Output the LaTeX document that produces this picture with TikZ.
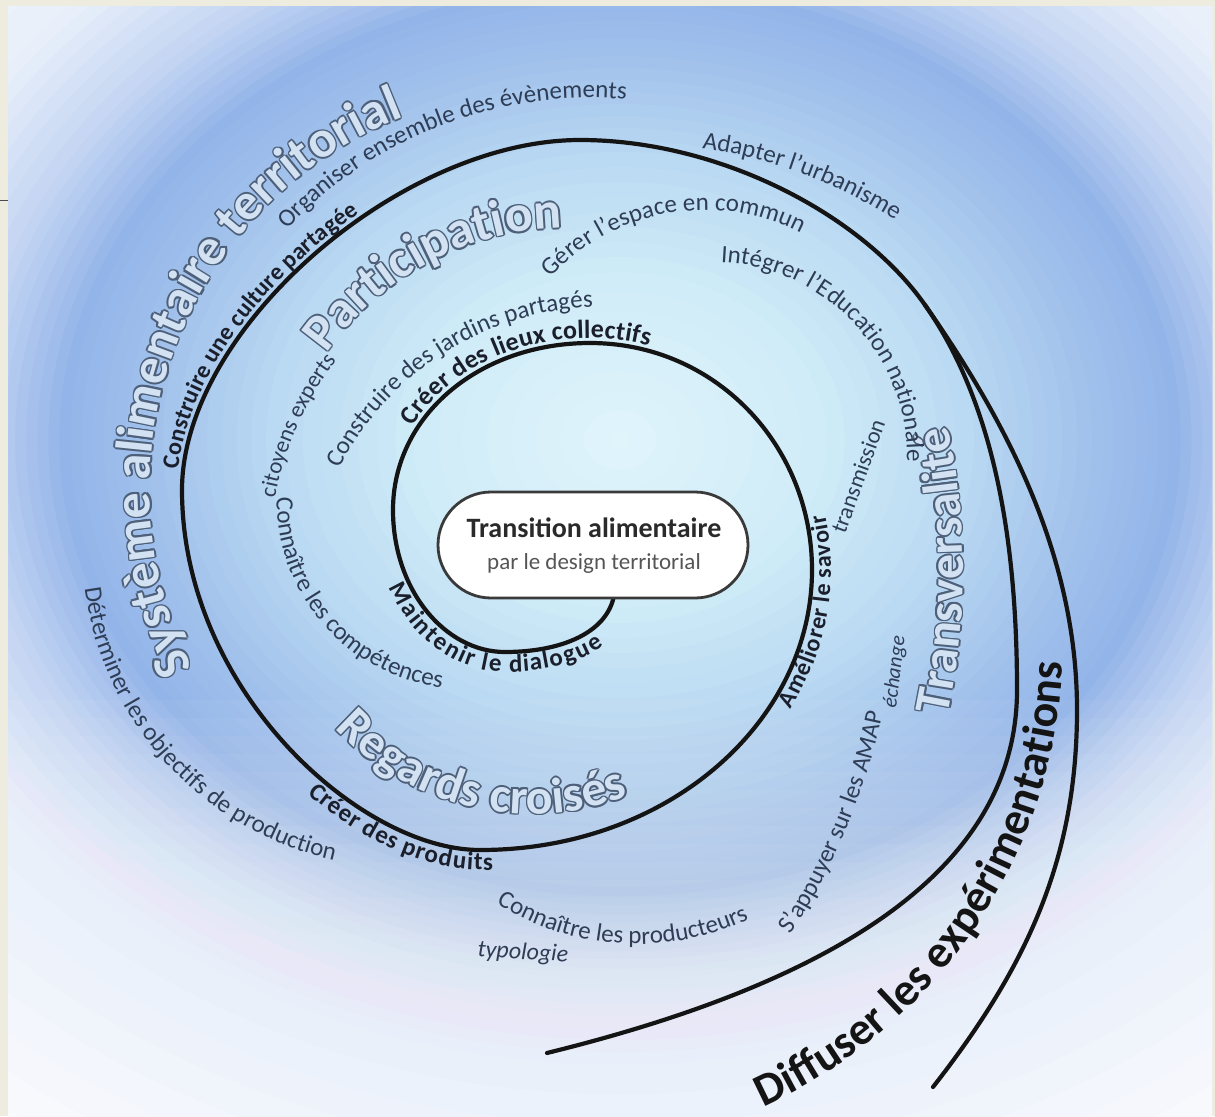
\documentclass[tikz,border=0pt]{standalone}
\usepackage{fontspec}
\setmainfont{Carlito}
\usetikzlibrary{decorations.text}
\definecolor{beige}{HTML}{EEEBDF}
\definecolor{bg0}{HTML}{E0F4FB}
\definecolor{bg1}{HTML}{D0ECF8}
\definecolor{bg2}{HTML}{BAD9F2}
\definecolor{bg3}{HTML}{A2C2EC}
\definecolor{bg4}{HTML}{93B4E9}
\definecolor{bg5}{HTML}{C2D4F2}
\definecolor{bg6}{HTML}{E8EFFA}
\definecolor{bg7}{HTML}{F9FAFD}
\definecolor{txtc}{HTML}{2E3D55}
\definecolor{boldc}{HTML}{1A1F2B}
\definecolor{holline}{HTML}{4E6079}
\definecolor{holfill}{HTML}{D2E2F3}
\definecolor{spiralc}{HTML}{141414}
\definecolor{pillb}{HTML}{3A3A3A}
\definecolor{pilltxt}{HTML}{2A2A2A}
\definecolor{pillsub}{HTML}{555555}
% background band: #1 u inner, #2 u outer, #3 colour inner, #4 colour outer
\newcommand\bgband[4]{%
 \foreach \j in {0,...,8}{%
   \pgfmathsetmacro\uu{#2-(#2-#1)*\j/8}%
   \pgfmathtruncatemacro\pp{100*\j/8}%
   \fill[#3!\pp!#4] (620,440) ellipse [x radius=\uu*590, y radius=\uu*480];}}
% #1 center, #2 radius, #3 from, #4 to, #5 format, #6 text
\newcommand\arctext[6]{%
 \path[decorate, decoration={text along path, text align=center, text={|#5|#6}}]
   (#1) ++(#3:#2) arc[start angle=#3, end angle=#4, radius=#2];}
% hollow (outlined) text: #1 center, #2 radius, #3 from, #4 to, #5 size, #6 text
\newcommand\hollowtext[6]{%
 \foreach \sx/\sy in {1.7/0,-1.7/0,0/1.7,0/-1.7,1.2/1.2,-1.2/1.2,1.2/-1.2,-1.2/-1.2}{%
  \path[shift={(\sx,\sy)}, decorate, decoration={text along path, text align=center,
     text={|\fontsize{#5}{#5}\selectfont\bfseries\color{holline}|#6}}]
   (#1) ++(#3:#2) arc[start angle=#3, end angle=#4, radius=#2];}%
 \path[decorate, decoration={text along path, text align=center,
     text={|\fontsize{#5}{#5}\selectfont\bfseries\color{holfill}|#6}}]
   (#1) ++(#3:#2) arc[start angle=#3, end angle=#4, radius=#2];}
\tikzset{
 spiral/.style={line width=4.2pt, draw=spiralc, line cap=round},
 pill/.style={draw=pillb, line width=2.8pt, fill=white, rounded corners=53pt,
   minimum width=310pt, minimum height=106pt, inner sep=0pt},
 smalllabel/.style={text=txtc, inner sep=0pt}
}
\begin{document}
\begin{tikzpicture}[x=1pt, y=-1pt]
\useasboundingbox (0,0) rectangle (1215,1116);
\fill[beige] (0,0) rectangle (1215,1116);
\begin{scope}
 \clip (8,7) rectangle (1212,1116);
 \fill[bg7] (8,7) rectangle (1212,1116);
 \bgband{1.3}{1.8}{bg6}{bg7}
 \bgband{1.1}{1.3}{bg5}{bg6}
 \bgband{0.95}{1.1}{bg4}{bg5}
 \bgband{0.8}{0.95}{bg3}{bg4}
 \bgband{0.6}{0.8}{bg2}{bg3}
 \bgband{0.35}{0.6}{bg1}{bg2}
 \bgband{0.02}{0.35}{bg0}{bg1}
 % paler lower part
 \foreach \k in {0,...,21}{%
   \fill[white, fill opacity=0.045] (8,{700+18*\k}) rectangle (1212,1116);}
\end{scope}
\draw[line width=1pt, draw=gray!60!black] (0,200) -- (8,200);

% spiral
\draw[spiral] (615,585) .. controls (615,630) and (565,652) .. (505,652)
  .. controls (445,652) and (393,590) .. (393,510)
  .. controls (393,415) and (480,343) .. (590,343)
  .. controls (715,343) and (812,445) .. (812,570)
  .. controls (812,720) and (670,850) .. (480,850)
  .. controls (360,850) and (182,690) .. (182,490)
  .. controls (182,330) and (400,140) .. (580,140)
  .. controls (720,140) and (862,215) .. (925,305)
  .. controls (994,403) and (1017,540) .. (1017,690)
  .. controls (1017,890) and (790,993) .. (547,1053);
\draw[spiral] (925,305) .. controls (1011,428) and (1077,560) .. (1077,710)
  .. controls (1077,860) and (1026,968) .. (933,1087);

% outlined theme words
\hollowtext{550,489}{400}{141}{261}{52}{Système alimentaire territorial}
\hollowtext{568,523}{295}{198}{286}{52}{Participation}
\hollowtext{532,544}{270}{150}{56}{50}{Regards croisés}
\hollowtext{263,571}{700}{18}{-18}{50}{Transversalité}

% regular labels on arcs
\arctext{590,512}{414}{212}{286}{\fontsize{25}{25}\selectfont\color{txtc}}{Organiser ensemble des évènements}
\arctext{632,630}{487}{270}{311}{\fontsize{25}{25}\selectfont\color{txtc}}{Adapter l'urbanisme}
\arctext{705,421}{211}{205}{315}{\fontsize{25}{25}\selectfont\color{txtc}}{Gérer l'espace en commun}
\arctext{712,457}{195}{250}{384}{\fontsize{25}{25}\selectfont\color{txtc}}{Intégrer l'Education nationale}
\arctext{603,603}{296}{195}{280}{\fontsize{25}{25}\selectfont\color{txtc}}{Construire des jardins partagés}
\arctext{600,560}{331}{184}{224}{\fontsize{23}{23}\selectfont\color{txtc}}{citoyens experts}
\arctext{467,499}{190.5}{190}{88}{\fontsize{25}{25}\selectfont\color{txtc}}{Connaître les compétences}
\arctext{404,546}{322}{180}{95}{\fontsize{25}{25}\selectfont\color{txtc}}{Déterminer les objectifs de production}
\arctext{637,680}{264}{130}{57}{\fontsize{25}{25}\selectfont\color{txtc}}{Connaître les producteurs}
\arctext{253,582}{643}{40}{5}{\fontsize{25}{25}\selectfont\color{txtc}}{S'appuyer sur les AMAP}
\arctext{553,642}{510}{78}{-10}{\fontsize{46}{46}\selectfont\bfseries\color{spiralc}}{Diffuser les expérimentations}

% bold labels riding on the spiral
\path[decorate, decoration={text along path, raise=5pt, text align={left indent=20pt},
  text={|\fontsize{24}{24}\selectfont\bfseries\color{boldc}|Construire une culture partagée}}]
  (182,490) .. controls (182,330) and (400,140) .. (580,140);
\path[decorate, decoration={text along path, raise=5pt, text align={left indent=85pt},
  text={|\fontsize{26}{26}\selectfont\bfseries\color{boldc}|Créer des lieux collectifs}}]
  (393,510) .. controls (393,415) and (480,343) .. (590,343)
  .. controls (715,343) and (812,445) .. (812,570);
\path[decorate, decoration={text along path, raise=-20pt, text align={left indent=70pt},
  text={|\fontsize{25}{25}\selectfont\bfseries\color{boldc}|Maintenir le dialogue}}]
  (393,510) .. controls (393,590) and (445,652) .. (505,652)
  .. controls (565,652) and (615,630) .. (615,585);
\path[decorate, decoration={text along path, raise=-19pt, text align={left indent=345pt},
  text={|\fontsize{24}{24}\selectfont\bfseries\color{boldc}|Améliorer le savoir}}]
  (480,850) .. controls (670,850) and (812,720) .. (812,570)
  .. controls (812,445) and (715,343) .. (590,343);
\path[decorate, decoration={text along path, raise=-20pt, text align={left indent=330pt},
  text={|\fontsize{25}{25}\selectfont\bfseries\color{boldc}|Créer des produits}}]
  (182,490) .. controls (182,690) and (360,850) .. (480,850)
  .. controls (670,850) and (812,720) .. (812,570);

% small straight labels
\node[smalllabel, font=\fontsize{24}{24}\selectfont\itshape, rotate=-3] (typo) at (523,953) {typologie};
\node[smalllabel, font=\fontsize{21}{21}\selectfont\itshape, rotate=83] (echange) at (895,672) {échange};
\node[smalllabel, font=\fontsize{23}{23}\selectfont, rotate=70] (transm) at (858,476) {transmission};

% centre
\node[pill] (core) at (593,545) {};
\node[text=pilltxt, font=\fontsize{28}{28}\selectfont\bfseries, inner sep=0pt] (title) at (594,528) {Transition alimentaire};
\node[text=pillsub, font=\fontsize{23}{23}\selectfont, inner sep=0pt] (subtitle) at (594,563) {par le design territorial};
\end{tikzpicture}
\end{document}
